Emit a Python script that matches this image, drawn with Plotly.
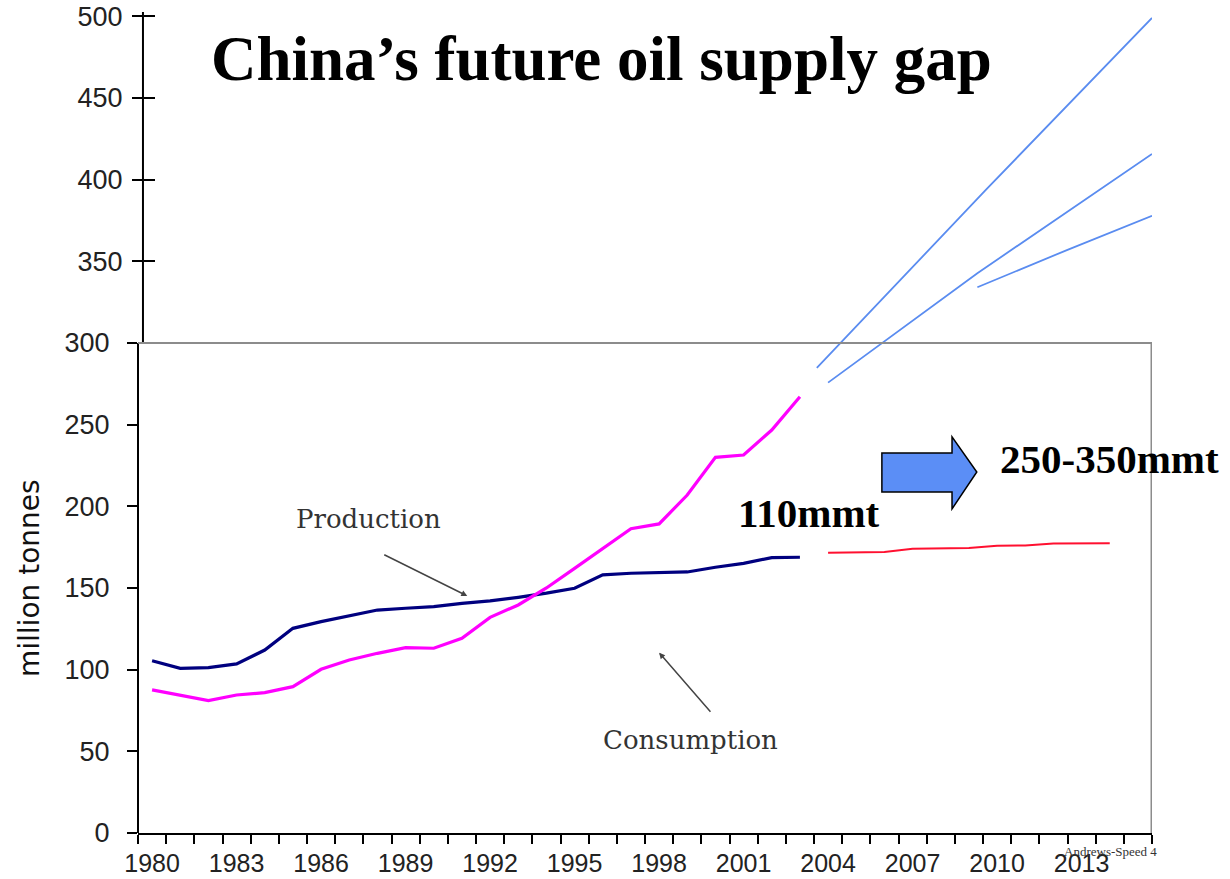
import plotly.graph_objects as go

# ---------------- data ----------------
years_hist = list(range(1980, 2004))
production = [105.5, 100.8, 101.2, 103.5, 112.0, 125.3, 129.4, 132.9, 136.5, 137.6,
              138.6, 140.6, 142.1, 144.3, 146.8, 149.8, 158.0, 159.0, 159.4, 159.8,
              162.7, 165.1, 168.6, 168.8]
consumption = [87.6, 84.1, 81.0, 84.5, 85.9, 89.6, 100.2, 105.9, 110.0, 113.5,
               113.1, 119.2, 132.0, 139.6, 150.0, 162.0, 174.0, 186.3, 189.2, 206.9,
               230.0, 231.4, 246.7, 267.1]

years_prod_fc = list(range(2004, 2015))
production_fc = [171.6, 171.8, 172.0, 174.0, 174.2, 174.5, 175.8, 176.0, 177.2, 177.3, 177.4]

demand_high_x = [2003.6, 2009.6, 2015.5]
demand_high_y = [284.7, 393.7, 499.0]
demand_mid_x = [2004.0, 2009.3, 2015.5]
demand_mid_y = [275.7, 342.7, 415.7]
demand_low_x = [2009.3, 2012.5, 2015.5]
demand_low_y = [334.1, 357.0, 377.8]

axis_years = list(range(1980, 2016))
tick_years = axis_years[::3]
tick_labels = [str(y) for y in tick_years]
y_ticks_low = [0, 50, 100, 150, 200, 250, 300]
y_ticks_high = [350, 400, 450, 500]

# ---------------- figure ----------------
Y_MAX = 502.6
fig = go.Figure()

fig.add_trace(go.Scatter(x=years_hist, y=production, mode="lines",
                         line=dict(color="#00007F", width=3.2), name="Production"))
fig.add_trace(go.Scatter(x=years_hist, y=consumption, mode="lines",
                         line=dict(color="#FF00FF", width=3.2), name="Consumption"))
fig.add_trace(go.Scatter(x=years_prod_fc, y=production_fc, mode="lines",
                         line=dict(color="#FF1030", width=2), name="Production forecast"))
for xs, ys in [(demand_high_x, demand_high_y), (demand_mid_x, demand_mid_y),
               (demand_low_x, demand_low_y)]:
    fig.add_trace(go.Scatter(x=xs, y=ys, mode="lines", yaxis="y2",
                             line=dict(color="#5A8CF0", width=1.8), name="Demand"))

x_lo = axis_years[0] - 0.5
x_hi = axis_years[-1] + 0.5
upper_pos = 0.0049

tickfont_y = dict(family="Liberation Sans", size=27, color="#222")

fig.update_layout(
    width=1230, height=879,
    margin=dict(l=138, r=78, t=12, b=46, autoexpand=False),
    paper_bgcolor="white", plot_bgcolor="white",
    showlegend=False,
    xaxis=dict(
        range=[x_lo, x_hi], automargin=False,
        tickmode="array", tickvals=tick_years, ticktext=tick_labels,
        ticks="", showgrid=False, zeroline=False,
        showline=True, linecolor="black", linewidth=2,
        tickfont=dict(family="Liberation Sans", size=25, color="#222"),
        ticklabelstandoff=7,
        minor=dict(tickmode="array", tickvals=[y - 0.5 for y in axis_years] + [x_hi],
                   ticks="outside", ticklen=9, tickwidth=2, tickcolor="black",
                   showgrid=False),
    ),
    yaxis=dict(
        range=[0, Y_MAX], automargin=False,
        tickmode="array", tickvals=y_ticks_low,
        ticks="outside", ticklen=10, tickwidth=2, tickcolor="black",
        showgrid=False, zeroline=False, showline=False,
        tickfont=tickfont_y, ticklabelstandoff=12,
    ),
    yaxis2=dict(
        range=[0, Y_MAX], automargin=False, overlaying="y",
        anchor="free", position=upper_pos, side="left",
        tickmode="array", tickvals=y_ticks_high,
        ticks="outside", ticklen=11, tickwidth=2, tickcolor="black",
        minor=dict(tickmode="array", tickvals=y_ticks_high, ticks="inside",
                   ticklen=11, tickwidth=2, tickcolor="black", showgrid=False),
        showgrid=False, zeroline=False, showline=False,
        tickfont=tickfont_y, ticklabelstandoff=4, ticklabeloverflow="allow",
    ),
)

# axis lines: lower panel axis and offset upper axis
fig.add_shape(type="line", xref="paper", yref="y", x0=0, x1=0, y0=0, y1=300,
              line=dict(color="black", width=2))
fig.add_shape(type="line", xref="paper", yref="y", x0=upper_pos, x1=upper_pos,
              y0=300, y1=Y_MAX, line=dict(color="black", width=2))

# grey frame of the historical panel
fig.add_shape(type="line", xref="x", yref="y", x0=x_lo, x1=x_hi, y0=300, y1=300,
              line=dict(color="#8C8C8C", width=2))
fig.add_shape(type="line", xref="x", yref="y", x0=x_hi, x1=x_hi, y0=0, y1=300,
              line=dict(color="#8C8C8C", width=3))

# block arrow
fig.add_shape(type="path", xref="x", yref="y",
              path="M 2005.91,232.7 L 2008.40,232.7 L 2008.40,242.5 L 2009.28,221.0 "
                   "L 2008.40,198.4 L 2008.40,208.8 L 2005.91,208.8 Z",
              fillcolor="#5B8EF6", line=dict(color="black", width=1.5))

# texts
fig.add_annotation(text="China’s future oil supply gap", xref="paper", yref="paper",
                   x=0.457, y=0.988, xanchor="center", yanchor="top", showarrow=False,
                   font=dict(family="Liberation Serif", size=63, color="black", weight="bold"))
fig.add_annotation(text="million tonnes", xref="paper", yref="paper",
                   x=-0.1065, y=0.3106, xanchor="center", yanchor="middle",
                   textangle=-90, showarrow=False,
                   font=dict(family="DejaVu Sans", size=28, color="#111"))
fig.add_annotation(text="Production", xref="x", yref="y", x=1987.7, y=192.2,
                   showarrow=False,
                   font=dict(family="DejaVu Serif", size=26, color="#333"))
fig.add_annotation(text="Consumption", xref="x", yref="y", x=1999.1, y=56.9,
                   showarrow=False,
                   font=dict(family="DejaVu Serif", size=26, color="#333"))
fig.add_annotation(text="", xref="x", yref="y", x=1991.19, y=145.1,
                   axref="x", ayref="y", ax=1988.19, ay=170.8,
                   showarrow=True, arrowhead=2, arrowsize=0.8, arrowwidth=1.5,
                   arrowcolor="#444")
fig.add_annotation(text="", xref="x", yref="y", x=1998.0, y=110.4,
                   axref="x", ayref="y", ax=1999.87, ay=73.3,
                   showarrow=True, arrowhead=2, arrowsize=0.8, arrowwidth=1.5,
                   arrowcolor="#444")
fig.add_annotation(text="110mmt", xref="x", yref="y", x=2003.34, y=196.0,
                   showarrow=False,
                   font=dict(family="Liberation Serif", size=41, color="black", weight="bold"))
fig.add_annotation(text="250-350mmt", xref="x", yref="y", x=2014.0, y=229.0,
                   showarrow=False,
                   font=dict(family="Liberation Serif", size=41, color="black", weight="bold"))
fig.add_annotation(text="Andrews-Speed 4", xref="paper", yref="paper",
                   x=0.9586, y=-0.0231, xanchor="center", yanchor="middle",
                   showarrow=False,
                   font=dict(family="Liberation Serif", size=13, color="#333"))

fig.write_html("out.html", config={"displayModeBar": False},
               post_script="document.body.style.margin='0';")
